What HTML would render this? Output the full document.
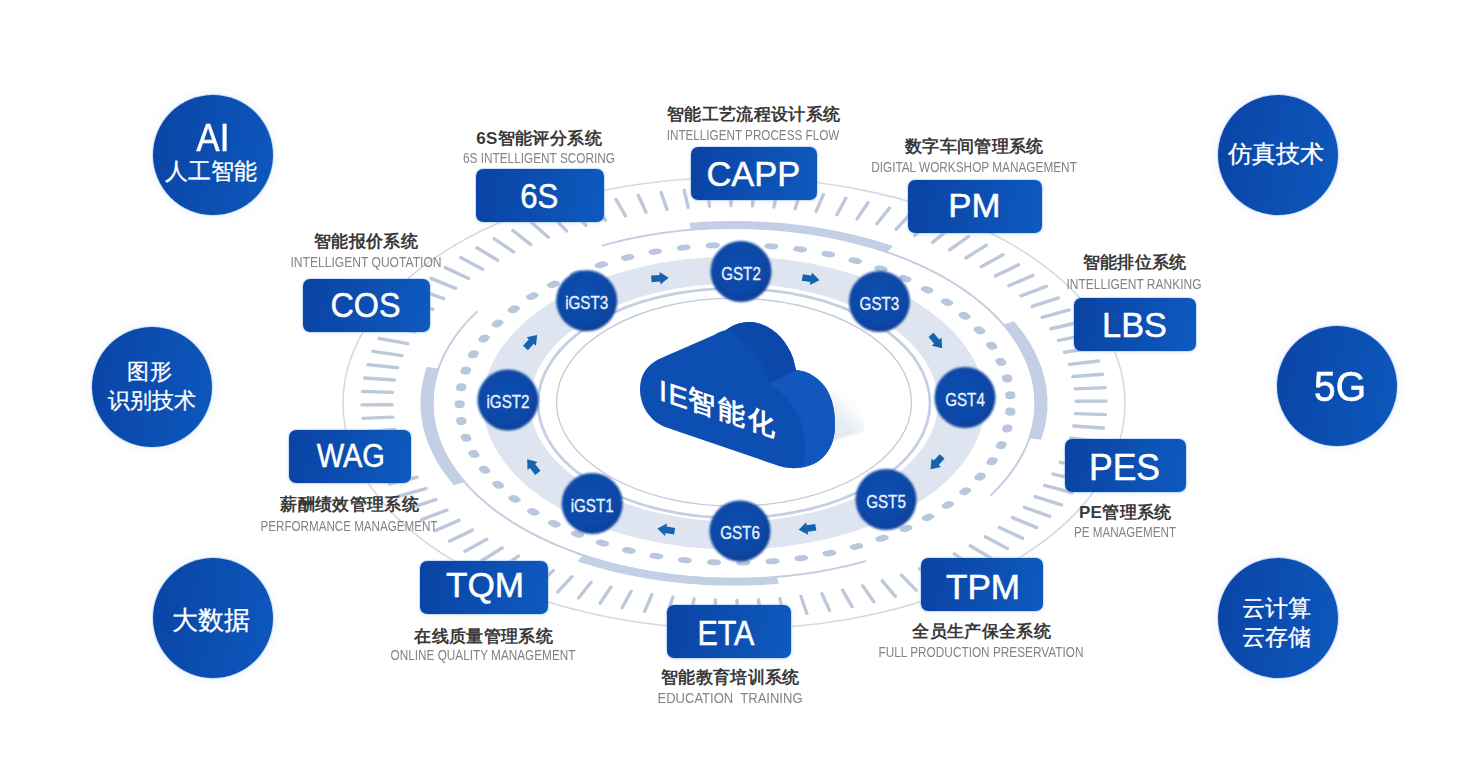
<!DOCTYPE html><html><head><meta charset="utf-8"><style>
*{margin:0;padding:0;box-sizing:border-box}
html,body{width:1463px;height:759px;overflow:hidden;background:#fff}
body{position:relative;font-family:"Liberation Sans",sans-serif}
.bc{position:absolute;width:120px;height:120px;border-radius:50%;background:linear-gradient(100deg,#0a44a5 0%,#0d58bd 100%);box-shadow:0 0 0 1px rgba(140,190,250,.45),0 0 10px 3px rgba(40,100,200,.06);color:#fff;text-align:center}
.bx{position:absolute;height:53px;border-radius:7px;background:linear-gradient(100deg,#0a43a3 0%,#0e5abf 100%);box-shadow:0 0 0 1px rgba(140,190,250,.4),0 1px 5px rgba(20,70,160,.10);color:#fff}
.bx span{position:absolute;left:50%;top:0;white-space:nowrap;font-size:34px;line-height:53px;transform-origin:50% 50%;-webkit-text-stroke:0.5px #fff}
.t{position:absolute;white-space:nowrap;text-align:center;font-weight:bold;color:#3a3a3a;font-size:17px;line-height:20px;letter-spacing:0.35px}
.e{position:absolute;white-space:pre;color:#838383;font-size:14px;line-height:14px;transform-origin:50% 50%}
.ct{position:absolute;left:0;width:120px;text-align:center;white-space:nowrap;-webkit-text-stroke:0.3px #fff}
</style></head><body>
<svg width="1463" height="759" viewBox="0 0 1463 759" style="position:absolute;left:0;top:0">
<defs>
<linearGradient id="gb" x1="0" y1="0" x2="1" y2="0.3"><stop offset="0" stop-color="#0a429f"/><stop offset="1" stop-color="#1461c4"/></linearGradient>
<radialGradient id="gst" cx="0.45" cy="0.42" r="0.6"><stop offset="0" stop-color="#1150b0"/><stop offset="0.75" stop-color="#0c47a6"/><stop offset="1" stop-color="#0b3f98"/></radialGradient>
<filter id="soft" x="-20%" y="-20%" width="140%" height="140%"><feGaussianBlur stdDeviation="1.3"/></filter>
<filter id="glow" x="-30%" y="-30%" width="160%" height="160%"><feGaussianBlur stdDeviation="5"/></filter>
<linearGradient id="cloudg" x1="0" y1="0" x2="1" y2="0.4"><stop offset="0" stop-color="#0c4db2"/><stop offset="1" stop-color="#1256bb"/></linearGradient>
</defs>
<ellipse cx="734.0" cy="403.3" rx="391" ry="225.8" fill="none" stroke="#d3d9e5" stroke-width="1.6"/>
<path d="M1075.50,413.67L1105.46,414.61M1073.66,426.02L1103.46,428.04M1070.49,438.28L1100.01,441.38M1065.99,450.41L1095.11,454.56M1060.17,462.34L1088.78,467.54M1053.07,474.04L1081.06,480.27M1044.71,485.46L1071.97,492.69M1035.12,496.55L1061.54,504.76M1024.35,507.28L1049.82,516.43M1012.43,517.59L1036.85,527.64M999.41,527.45L1022.69,538.37M985.34,536.82L1007.39,548.56M970.28,545.67L991.01,558.18M954.29,553.94L973.61,567.19M937.43,561.63L955.27,575.54M919.77,568.69L936.06,583.22M901.37,575.09L916.05,590.18M882.31,580.81L895.32,596.41M862.67,585.84L873.96,601.87M842.52,590.14L852.04,606.55M821.94,593.70L829.65,610.43M801.01,596.51L806.89,613.48M779.82,598.55L783.84,615.71M758.45,599.83L760.60,617.09M736.98,600.33L737.25,617.64M715.51,600.05L713.88,617.33M694.10,598.99L690.60,616.18M672.85,597.15L667.49,614.19M651.84,594.56L644.64,611.36M631.16,591.20L622.14,607.71M610.88,587.10L600.08,603.25M591.09,582.28L578.55,598.01M571.86,576.75L557.64,591.99M553.27,570.53L537.42,585.23M535.40,563.65L517.98,577.75M518.31,556.14L499.39,569.57M502.07,548.02L481.72,560.75M486.75,539.33L465.06,551.29M472.40,530.11L449.45,541.26M459.08,520.38L434.97,530.68M446.85,510.19L421.66,519.59M435.75,499.57L409.59,508.04M425.83,488.58L398.80,496.08M417.13,477.24L389.33,483.75M409.67,465.61L381.22,471.11M403.50,453.74L374.51,458.19M398.63,441.67L369.21,445.06M395.08,429.44L365.35,431.76M392.88,417.11L362.95,418.35M392.01,404.72L362.01,404.87M392.50,392.33L362.54,391.39M394.34,379.98L364.54,377.96M397.51,367.72L367.99,364.62M402.01,355.59L372.89,351.44M407.83,343.66L379.22,338.46M414.93,331.96L386.94,325.73M423.29,320.54L396.03,313.31M432.88,309.45L406.46,301.24M443.65,298.72L418.18,289.57M455.57,288.41L431.15,278.36M468.59,278.55L445.31,267.63M482.66,269.18L460.61,257.44M497.72,260.33L476.99,247.82M513.71,252.06L494.39,238.81M530.57,244.37L512.73,230.46M548.23,237.31L531.94,222.78M566.63,230.91L551.95,215.82M585.69,225.19L572.68,209.59M605.33,220.16L594.04,204.13M625.48,215.86L615.96,199.45M646.06,212.30L638.35,195.57M666.99,209.49L661.11,192.52M688.18,207.45L684.16,190.29M709.55,206.17L707.40,188.91M731.02,205.67L730.75,188.36M752.49,205.95L754.12,188.67M773.90,207.01L777.40,189.82M795.15,208.85L800.51,191.81M816.16,211.44L823.36,194.64M836.84,214.80L845.86,198.29M857.12,218.90L867.92,202.75M876.91,223.72L889.45,207.99M896.14,229.25L910.36,214.01M914.73,235.47L930.58,220.77M932.60,242.35L950.02,228.25M949.69,249.86L968.61,236.43M965.93,257.98L986.28,245.25M981.25,266.67L1002.94,254.71M995.60,275.89L1018.55,264.74M1008.92,285.62L1033.03,275.32M1021.15,295.81L1046.34,286.41M1032.25,306.43L1058.41,297.96M1042.17,317.42L1069.20,309.92M1050.87,328.76L1078.67,322.25M1058.33,340.39L1086.78,334.89M1064.50,352.26L1093.49,347.81M1069.37,364.33L1098.79,360.94M1072.92,376.56L1102.65,374.24M1075.12,388.89L1105.05,387.65M1075.99,401.28L1105.99,401.13" stroke="#bdc8db" stroke-width="3.4" stroke-linecap="round" fill="none"/>
<path d="M601.83,245.69 L606.60,244.37 L611.41,243.10 L616.26,241.87 L621.15,240.69 L626.07,239.57 L631.02,238.49 L636.01,237.47 L641.02,236.49 L646.07,235.57 L651.14,234.70 L656.23,233.88 L661.35,233.11 L666.49,232.40 L671.66,231.74 L676.84,231.13 L682.04,230.57 L687.26,230.07 L692.49,229.62 L697.73,229.22 L702.98,228.88 L708.25,228.59 L713.52,228.35 L718.80,228.17 L724.08,228.04 L729.36,227.97 L734.65,227.95 L739.94,227.98 L745.22,228.07 L750.50,228.21 L755.78,228.41 L761.05,228.65 L766.31,228.96 L771.56,229.31 L776.80,229.72 L782.03,230.19 L787.24,230.70 L792.44,231.27 L797.62,231.90 L802.77,232.57 L807.91,233.30 L813.03,234.08 L818.12,234.91 L823.18,235.79 L828.22,236.73 L833.22,237.72 L838.20,238.75 L843.15,239.84 L848.06,240.98 L852.93,242.17 L857.77,243.41 L862.58,244.69 L867.34,246.03 L872.06,247.41 L876.74,248.84 L881.37,250.32 L885.96,251.85 L890.51,253.42 L895.00,255.04 L899.45,256.71 L903.84,258.42 L908.18,260.17 L912.47,261.97 L916.71,263.81 L920.88,265.70 L925.00,267.62 L929.06,269.59 L933.07,271.60 L937.01,273.65 L940.88,275.74 L944.70,277.87 L948.45,280.04 L952.13,282.25 L955.75,284.49 L959.29,286.77 L962.77,289.09 L966.18,291.44 L969.52,293.82 L972.78,296.24 L975.97,298.69 L979.09,301.18 L982.13,303.69 L985.10,306.24 L987.99,308.81 L990.80,311.42 L993.53,314.05 L996.18,316.71 L998.75,319.40 L1001.24,322.11 L1003.64,324.85 L1005.97,327.61 L1008.21,330.40 L1010.36,333.20 L1012.43,336.03 L1014.42,338.88 L1016.32,341.75 L1018.13,344.64 L1019.86,347.55 L1021.49,350.47 L1023.04,353.41 L1024.50,356.37 L1025.87,359.34 L1027.15,362.32 L1028.34,365.32 L1029.44,368.33 L1030.45,371.34 L1031.37,374.37 L1032.20,377.41 L1032.93,380.46 L1033.57,383.51 L1034.12,386.57 L1034.58,389.63 L1034.95,392.70 L1035.22,395.77 L1035.40,398.84 L1035.49,401.92 L1035.49,404.99 L1035.39,408.07 L1035.20,411.14 L1034.92,414.21 L1034.54,417.28 L1034.07,420.34 L1033.51,423.40 L1032.86,426.45 L1032.12,429.49 L1031.28,432.53 L1030.36,435.56 L1029.34,438.57 L1028.23,441.58 L1027.03,444.58 L1025.74,447.56 L1024.36,450.53 L1022.89,453.48 L1021.33,456.42 L1019.69,459.34 L1017.95,462.25 L1016.13,465.13 L1014.23,468.00 L1012.23,470.85 L1010.15,473.68 L1007.99,476.48 L1005.74,479.26 L1003.41,482.02 L1000.99,484.76 L998.50,487.47 L995.92,490.15 L993.26,492.81 L990.52,495.44 M866.17,560.91 L861.40,562.23 L856.59,563.50 L851.74,564.73 L846.85,565.91 L841.93,567.03 L836.98,568.11 L831.99,569.13 L826.98,570.11 L821.93,571.03 L816.86,571.90 L811.77,572.72 L806.65,573.49 L801.51,574.20 L796.34,574.86 L791.16,575.47 L785.96,576.03 L780.74,576.53 L775.51,576.98 L770.27,577.38 L765.02,577.72 L759.75,578.01 L754.48,578.25 L749.20,578.43 L743.92,578.56 L738.64,578.63 L733.35,578.65 L728.06,578.62 L722.78,578.53 L717.50,578.39 L712.22,578.19 L706.95,577.95 L701.69,577.64 L696.44,577.29 L691.20,576.88 L685.97,576.41 L680.76,575.90 L675.56,575.33 L670.38,574.70 L665.23,574.03 L660.09,573.30 L654.97,572.52 L649.88,571.69 L644.82,570.81 L639.78,569.87 L634.78,568.88 L629.80,567.85 L624.85,566.76 L619.94,565.62 L615.07,564.43 L610.23,563.19 L605.42,561.91 L600.66,560.57 L595.94,559.19 L591.26,557.76 L586.63,556.28 L582.04,554.75 L577.49,553.18 L573.00,551.56 L568.55,549.89 L564.16,548.18 L559.82,546.43 L555.53,544.63 L551.29,542.79 L547.12,540.90 L543.00,538.98 L538.94,537.01 L534.93,535.00 L530.99,532.95 L527.12,530.86 L523.30,528.73 L519.55,526.56 L515.87,524.35 L512.25,522.11 L508.71,519.83 L505.23,517.51 L501.82,515.16 L498.48,512.78 L495.22,510.36 L492.03,507.91 L488.91,505.42 L485.87,502.91 L482.90,500.36 L480.01,497.79 L477.20,495.18 L474.47,492.55 L471.82,489.89 L469.25,487.20 L466.76,484.49 L464.36,481.75 L462.03,478.99 L459.79,476.20 L457.64,473.40 L455.57,470.57 L453.58,467.72 L451.68,464.85 L449.87,461.96 L448.14,459.05 L446.51,456.13 L444.96,453.19 L443.50,450.23 L442.13,447.26 L440.85,444.28 L439.66,441.28 L438.56,438.27 L437.55,435.26 L436.63,432.23 L435.80,429.19 L435.07,426.14 L434.43,423.09 L433.88,420.03 L433.42,416.97 L433.05,413.90 L432.78,410.83 L432.60,407.76 L432.51,404.68 L432.51,401.61 L432.61,398.53 L432.80,395.46 L433.08,392.39 L433.46,389.32 L433.93,386.26 L434.49,383.20 L435.14,380.15 L435.88,377.11 L436.72,374.07 L437.64,371.04 L438.66,368.03 L439.77,365.02 L440.97,362.02 L442.26,359.04 L443.64,356.07 L445.11,353.12 L446.67,350.18 L448.31,347.26 L450.05,344.35 L451.87,341.47 L453.77,338.60 L455.77,335.75 L457.85,332.92 L460.01,330.12 L462.26,327.34 L464.59,324.58 L467.01,321.84 L469.50,319.13 L472.08,316.45 L474.74,313.79 L477.48,311.16" fill="none" stroke="#c4cee1" stroke-width="2"/>
<path d="M453.93,485.23 L451.50,482.35 L449.16,479.46 L446.91,476.54 L444.74,473.60 L442.66,470.64 L440.68,467.66 L438.78,464.65 L436.98,461.63 L435.26,458.59 L433.64,455.53 L432.11,452.46 L430.67,449.37 L429.33,446.27 L428.08,443.16 L426.93,440.03 L425.87,436.89 L424.90,433.74 L424.03,430.58 L423.25,427.41 L422.57,424.24 L421.99,421.06 L421.50,417.87 L421.11,414.68 L420.82,411.49 L420.62,408.29 L420.52,405.09 L420.51,401.89 L420.60,398.69 L420.79,395.50 L421.07,392.30 L421.45,389.11 L421.93,385.92 L422.50,382.74 L423.17,379.57 L423.93,376.40 L424.79,373.24 L425.74,370.09 L426.79,366.95 L439.53,368.46 L438.53,371.47 L437.61,374.49 L436.79,377.51 L436.06,380.55 L435.42,383.60 L434.87,386.64 L434.41,389.70 L434.05,392.76 L433.78,395.82 L433.60,398.89 L433.51,401.95 L433.51,405.02 L433.61,408.08 L433.80,411.15 L434.09,414.21 L434.46,417.27 L434.93,420.32 L435.49,423.37 L436.14,426.41 L436.88,429.45 L437.72,432.48 L438.64,435.50 L439.66,438.51 L440.77,441.50 L441.96,444.49 L443.25,447.46 L444.63,450.42 L446.10,453.37 L447.65,456.30 L449.29,459.21 L451.02,462.11 L452.84,464.99 L454.74,467.85 L456.73,470.69 L458.81,473.50 L460.97,476.30 L463.21,479.08 L465.54,481.83Z" fill="#c3cfe4"/>
<path d="M689.29,222.83 L694.81,222.40 L700.34,222.02 L705.89,221.70 L711.44,221.44 L717.00,221.24 L722.57,221.09 L728.14,221.00 L733.71,220.97 L739.28,220.99 L744.85,221.08 L750.42,221.22 L755.98,221.42 L761.54,221.67 L767.08,221.99 L772.62,222.36 L778.14,222.79 L783.65,223.27 L789.15,223.81 L794.62,224.41 L800.08,225.06 L805.52,225.78 L810.93,226.54 L816.32,227.37 L821.68,228.25 L827.02,229.18 L832.33,230.17 L837.60,231.21 L842.85,232.31 L848.05,233.46 L853.23,234.67 L858.36,235.93 L863.46,237.24 L868.51,238.60 L873.52,240.02 L878.49,241.49 L883.41,243.01 L888.29,244.58 L893.11,246.20 L886.52,252.71 L881.89,251.16 L877.22,249.65 L872.50,248.20 L867.74,246.79 L862.93,245.43 L858.09,244.13 L853.20,242.87 L848.28,241.66 L843.32,240.51 L838.33,239.40 L833.31,238.35 L828.25,237.35 L823.16,236.40 L818.05,235.50 L812.91,234.66 L807.74,233.87 L802.55,233.14 L797.34,232.46 L792.11,231.83 L786.86,231.25 L781.59,230.74 L776.31,230.27 L771.02,229.86 L765.71,229.51 L760.40,229.20 L755.07,228.96 L749.74,228.77 L744.40,228.63 L739.07,228.55 L733.72,228.53 L728.38,228.56 L723.04,228.65 L717.71,228.79 L712.38,228.98 L707.05,229.23 L701.74,229.54 L696.43,229.90 L691.14,230.32Z" fill="#c3cfe4"/>
<path d="M1014.07,321.37 L1016.50,324.25 L1018.84,327.14 L1021.09,330.06 L1023.26,333.00 L1025.34,335.96 L1027.32,338.94 L1029.22,341.95 L1031.02,344.97 L1032.74,348.01 L1034.36,351.07 L1035.89,354.14 L1037.33,357.23 L1038.67,360.33 L1039.92,363.44 L1041.07,366.57 L1042.13,369.71 L1043.10,372.86 L1043.97,376.02 L1044.75,379.19 L1045.43,382.36 L1046.01,385.54 L1046.50,388.73 L1046.89,391.92 L1047.18,395.11 L1047.38,398.31 L1047.48,401.51 L1047.49,404.71 L1047.40,407.91 L1047.21,411.10 L1046.93,414.30 L1046.55,417.49 L1046.07,420.68 L1045.50,423.86 L1044.83,427.03 L1044.07,430.20 L1043.21,433.36 L1042.26,436.51 L1041.21,439.65 L1028.47,438.14 L1029.47,435.13 L1030.39,432.11 L1031.21,429.09 L1031.94,426.05 L1032.58,423.00 L1033.13,419.96 L1033.59,416.90 L1033.95,413.84 L1034.22,410.78 L1034.40,407.71 L1034.49,404.65 L1034.49,401.58 L1034.39,398.52 L1034.20,395.45 L1033.91,392.39 L1033.54,389.33 L1033.07,386.28 L1032.51,383.23 L1031.86,380.19 L1031.12,377.15 L1030.28,374.12 L1029.36,371.10 L1028.34,368.09 L1027.23,365.10 L1026.04,362.11 L1024.75,359.14 L1023.37,356.18 L1021.90,353.23 L1020.35,350.30 L1018.71,347.39 L1016.98,344.49 L1015.16,341.61 L1013.26,338.75 L1011.27,335.91 L1009.19,333.10 L1007.03,330.30 L1004.79,327.52 L1002.46,324.77Z" fill="#c3cfe4"/>
<path d="M778.71,583.77 L773.26,584.20 L767.80,584.57 L762.33,584.89 L756.85,585.15 L751.36,585.35 L745.86,585.50 L740.36,585.59 L734.86,585.63 L729.36,585.61 L723.86,585.54 L718.37,585.40 L712.88,585.22 L707.39,584.97 L701.92,584.67 L696.45,584.32 L691.00,583.91 L685.56,583.44 L680.13,582.92 L674.72,582.34 L669.33,581.71 L663.95,581.02 L658.60,580.28 L653.28,579.48 L647.98,578.63 L642.70,577.73 L637.45,576.77 L632.23,575.76 L627.05,574.69 L621.89,573.58 L616.77,572.41 L611.69,571.18 L606.65,569.91 L601.64,568.58 L596.67,567.21 L591.75,565.78 L586.87,564.30 L582.04,562.78 L577.25,561.20 L583.75,554.66 L588.34,556.17 L592.97,557.63 L597.65,559.04 L602.37,560.41 L607.13,561.73 L611.93,563.00 L616.76,564.22 L621.64,565.39 L626.54,566.51 L631.48,567.59 L636.45,568.61 L641.46,569.58 L646.49,570.50 L651.54,571.36 L656.62,572.18 L661.73,572.94 L666.86,573.65 L672.01,574.31 L677.18,574.92 L682.36,575.47 L687.56,575.97 L692.78,576.42 L698.01,576.81 L703.25,577.15 L708.50,577.44 L713.75,577.67 L719.02,577.85 L724.29,577.98 L729.56,578.05 L734.83,578.07 L740.10,578.03 L745.37,577.95 L750.64,577.80 L755.90,577.61 L761.15,577.36 L766.40,577.05 L771.64,576.69 L776.86,576.28Z" fill="#c3cfe4"/>
<g transform="translate(735.2 403.8) scale(1 0.577)">
<circle r="275.5" fill="none" stroke="#b9c7de" stroke-width="10" stroke-linecap="round" stroke-dasharray="4.000 25.339" stroke-dashoffset="-11.704"/>
</g>
<path d="M985.00,403.00 A251.00,146.50 0 1,1 483.00,403.00 A251.00,146.50 0 1,1 985.00,403.00 Z M938.00,402.60 A204.00,118.90 0 1,0 530.00,402.60 A204.00,118.90 0 1,0 938.00,402.60 Z" fill="#dee5f0" fill-rule="evenodd"/>
<ellipse cx="734.0" cy="403.2" rx="196" ry="114.8" fill="none" stroke="#c6cfe2" stroke-width="2.8"/>
<ellipse cx="734.0" cy="402.2" rx="177.5" ry="104" fill="#fff" stroke="#c5cadb" stroke-width="1.3"/>
<defs><linearGradient id="shd" x1="0" y1="1" x2="0.6" y2="0"><stop offset="0" stop-color="#dde2eb"/><stop offset="0.5" stop-color="#eceff4"/><stop offset="1" stop-color="#ffffff" stop-opacity="0"/></linearGradient></defs>
<path d="M830,392 L852,386 C861,401 866,417 864,431 L832,441 Z" fill="url(#shd)" filter="url(#soft)"/>
<path d="M640,389 C640,375 647,365 659,359 L714,335 C719,332 722,331 726,330 C734,324 742,322 750,322 C770,323 786,338 793,358 L796,370 C808,371 820,378 827,390 C833,400 835,413 835,425 C835,446 825,461 808,466 C799,469 789,469 779,466 L665,427 C650,421 640,406 640,389 Z" fill="#0d4eb3"/>
<path d="M726,330 C734,324 742,322 750,322 C770,323 786,338 793,358 L796,370 L769,384 C765,364 752,344 738,336 C733,333 729,331 726,330 Z" fill="#0b48aa"/>
<path d="M796,370 C808,371 820,378 827,390 C833,400 835,413 835,425 C835,446 825,461 808,466 L803,467 C806,455 806,441 803,429 C800,413 790,397 769,384 Z" fill="#1157bd"/>
<text x="0" y="0" transform="translate(659,399.8) skewY(18.5)" font-family="Liberation Sans, sans-serif" fill="#fff"><tspan font-size="29" font-weight="normal" stroke="#fff" stroke-width="0.5" letter-spacing="1.5">IE</tspan><tspan font-size="27" letter-spacing="2.5" font-weight="bold" dy="-2.5" dx="-1">智能化</tspan></text>
<circle cx="586.7" cy="300.7" r="30.5" fill="url(#gst)" filter="url(#soft)"/>
<text x="0" y="0" text-anchor="middle" font-family="Liberation Sans, sans-serif" font-size="19" fill="#e9f1ff" stroke="#e9f1ff" stroke-width="0.35" transform="translate(586.7 308.7) scale(0.8 1)">iGST3</text>
<circle cx="741.0" cy="271.5" r="30.5" fill="url(#gst)" filter="url(#soft)"/>
<text x="0" y="0" text-anchor="middle" font-family="Liberation Sans, sans-serif" font-size="19" fill="#e9f1ff" stroke="#e9f1ff" stroke-width="0.35" transform="translate(741.0 279.5) scale(0.8 1)">GST2</text>
<circle cx="879.4" cy="301.5" r="30.5" fill="url(#gst)" filter="url(#soft)"/>
<text x="0" y="0" text-anchor="middle" font-family="Liberation Sans, sans-serif" font-size="19" fill="#e9f1ff" stroke="#e9f1ff" stroke-width="0.35" transform="translate(879.4 309.5) scale(0.8 1)">GST3</text>
<circle cx="965.0" cy="397.5" r="30.5" fill="url(#gst)" filter="url(#soft)"/>
<text x="0" y="0" text-anchor="middle" font-family="Liberation Sans, sans-serif" font-size="19" fill="#e9f1ff" stroke="#e9f1ff" stroke-width="0.35" transform="translate(965.0 405.5) scale(0.8 1)">GST4</text>
<circle cx="886.0" cy="499.5" r="30.5" fill="url(#gst)" filter="url(#soft)"/>
<text x="0" y="0" text-anchor="middle" font-family="Liberation Sans, sans-serif" font-size="19" fill="#e9f1ff" stroke="#e9f1ff" stroke-width="0.35" transform="translate(886.0 507.5) scale(0.8 1)">GST5</text>
<circle cx="740.0" cy="531.0" r="30.5" fill="url(#gst)" filter="url(#soft)"/>
<text x="0" y="0" text-anchor="middle" font-family="Liberation Sans, sans-serif" font-size="19" fill="#e9f1ff" stroke="#e9f1ff" stroke-width="0.35" transform="translate(740.0 539.0) scale(0.8 1)">GST6</text>
<circle cx="592.2" cy="503.5" r="30.5" fill="url(#gst)" filter="url(#soft)"/>
<text x="0" y="0" text-anchor="middle" font-family="Liberation Sans, sans-serif" font-size="19" fill="#e9f1ff" stroke="#e9f1ff" stroke-width="0.35" transform="translate(592.2 511.5) scale(0.8 1)">iGST1</text>
<circle cx="508.0" cy="400.0" r="30.5" fill="url(#gst)" filter="url(#soft)"/>
<text x="0" y="0" text-anchor="middle" font-family="Liberation Sans, sans-serif" font-size="19" fill="#e9f1ff" stroke="#e9f1ff" stroke-width="0.35" transform="translate(508.0 408.0) scale(0.8 1)">iGST2</text>
<path d="M-8.7,-3.3 L0,-3.3 L0,-6.3 L8.7,0 L0,6.3 L0,3.3 L-8.7,3.3 Z" fill="#1662ae" transform="translate(660.0 278.3) rotate(-4.0)"/>
<path d="M-8.7,-3.3 L0,-3.3 L0,-6.3 L8.7,0 L0,6.3 L0,3.3 L-8.7,3.3 Z" fill="#1662ae" transform="translate(810.9 278.8) rotate(9.0)"/>
<path d="M-8.7,-3.3 L0,-3.3 L0,-6.3 L8.7,0 L0,6.3 L0,3.3 L-8.7,3.3 Z" fill="#1662ae" transform="translate(936.6 341.6) rotate(50.0)"/>
<path d="M-8.7,-3.3 L0,-3.3 L0,-6.3 L8.7,0 L0,6.3 L0,3.3 L-8.7,3.3 Z" fill="#1662ae" transform="translate(936.3 462.8) rotate(132.0)"/>
<path d="M-8.7,-3.3 L0,-3.3 L0,-6.3 L8.7,0 L0,6.3 L0,3.3 L-8.7,3.3 Z" fill="#1662ae" transform="translate(807.2 528.5) rotate(171.0)"/>
<path d="M-8.7,-3.3 L0,-3.3 L0,-6.3 L8.7,0 L0,6.3 L0,3.3 L-8.7,3.3 Z" fill="#1662ae" transform="translate(666.0 529.8) rotate(189.0)"/>
<path d="M-8.7,-3.3 L0,-3.3 L0,-6.3 L8.7,0 L0,6.3 L0,3.3 L-8.7,3.3 Z" fill="#1662ae" transform="translate(532.5 466.0) rotate(-128.0)"/>
<path d="M-8.7,-3.3 L0,-3.3 L0,-6.3 L8.7,0 L0,6.3 L0,3.3 L-8.7,3.3 Z" fill="#1662ae" transform="translate(531.3 341.5) rotate(-48.0)"/>
</svg>
<div class="bc" style="left:152.6px;top:94.6px"><div class="ct" style="top:23.8px;font-size:38.5px;line-height:40px;transform:scaleX(0.9);-webkit-text-stroke:0.6px #fff">AI</div><div class="ct" style="top:62.3px;left:-1.2px;font-size:23.2px;line-height:28px">人工智能</div></div>
<div class="bc" style="left:91.5px;top:327.0px"><div class="ct" style="top:30px;left:-1.8px;font-size:22.4px;line-height:29px;letter-spacing:0.6px">图形</div><div class="ct" style="top:59px;font-size:22.4px;line-height:29px">识别技术</div></div>
<div class="bc" style="left:153.0px;top:557.6px"><div class="ct" style="top:47px;left:-2px;font-size:25.7px;line-height:30px">大数据</div></div>
<div class="bc" style="left:1217.6px;top:94.6px"><div class="ct" style="top:45px;left:-1.3px;font-size:24px;line-height:28px">仿真技术</div></div>
<div class="bc" style="left:1277.4px;top:326.0px"><div class="ct" style="top:37px;left:3px;font-size:43px;line-height:46px;transform:scaleX(0.905);-webkit-text-stroke:0.7px #fff">5G</div></div>
<div class="bc" style="left:1217.6px;top:557.7px"><div class="ct" style="top:36px;left:-1.5px;font-size:22.7px;line-height:29px">云计算<br>云存储</div></div>
<div class="bx" style="left:303.0px;top:278.5px;width:127.0px"><span style="font-size:34.4px;top:0.5px;transform:translateX(calc(-50% + -1.5px)) scaleX(0.939)">COS</span></div>
<div class="t" style="left:216.1px;top:231.5px;width:300px">智能报价系统</div>
<div class="e" style="left:165.7px;top:254.9px;width:400px;text-align:center;transform:scaleX(0.863)">INTELLIGENT QUOTATION</div>
<div class="bx" style="left:475.5px;top:169.0px;width:128.0px"><span style="font-size:35.5px;top:0.9px;transform:translateX(calc(-50% + -0.8px)) scaleX(0.878)">6S</span></div>
<div class="t" style="left:389.1px;top:129.1px;width:300px">6S智能评分系统</div>
<div class="e" style="left:338.7px;top:150.9px;width:400px;text-align:center;transform:scaleX(0.843)">6S INTELLIGENT SCORING</div>
<div class="bx" style="left:691.0px;top:147.3px;width:126.0px"><span style="font-size:35.3px;top:-0.2px;transform:translateX(calc(-50% + -0.6px)) scaleX(0.978)">CAPP</span></div>
<div class="t" style="left:603.6px;top:105.2px;width:300px">智能工艺流程设计系统</div>
<div class="e" style="left:553.2px;top:128.3px;width:400px;text-align:center;transform:scaleX(0.835)">INTELLIGENT PROCESS FLOW</div>
<div class="bx" style="left:908.0px;top:180.3px;width:133.5px"><span style="font-size:33.7px;top:-0.9px;transform:translateX(calc(-50% + -0.6px)) scaleX(1.032)">PM</span></div>
<div class="t" style="left:824.4px;top:136.5px;width:300px">数字车间管理系统</div>
<div class="e" style="left:774.0px;top:160.3px;width:400px;text-align:center;transform:scaleX(0.843)">DIGITAL WORKSHOP MANAGEMENT</div>
<div class="bx" style="left:1074.0px;top:298.2px;width:122.0px"><span style="font-size:34.4px;top:0.9px;transform:translateX(calc(-50% + -0.5px)) scaleX(0.997)">LBS</span></div>
<div class="t" style="left:984.6px;top:253.1px;width:300px">智能排位系统</div>
<div class="e" style="left:934.2px;top:277.2px;width:400px;text-align:center;transform:scaleX(0.856)">INTELLIGENT RANKING</div>
<div class="bx" style="left:1065.0px;top:438.8px;width:121.4px"><span style="font-size:37.5px;top:2.2px;transform:translateX(calc(-50% + -1.5px)) scaleX(0.948)">PES</span></div>
<div class="t" style="left:975.3px;top:502.8px;width:300px">PE管理系统</div>
<div class="e" style="left:924.9px;top:525.2px;width:400px;text-align:center;transform:scaleX(0.830)">PE MANAGEMENT</div>
<div class="bx" style="left:921.0px;top:557.8px;width:122.0px"><span style="font-size:34.3px;top:2.8px;transform:translateX(calc(-50% + 1.0px)) scaleX(1.023)">TPM</span></div>
<div class="t" style="left:831.6px;top:622.1px;width:300px">全员生产保全系统</div>
<div class="e" style="left:781.2px;top:645.2px;width:400px;text-align:center;transform:scaleX(0.844)">FULL PRODUCTION PRESERVATION</div>
<div class="bx" style="left:667.0px;top:605.1px;width:124.0px"><span style="font-size:34.7px;top:1.7px;transform:translateX(calc(-50% + -3.1px)) scaleX(0.879)">ETA</span></div>
<div class="t" style="left:580.3px;top:667.9px;width:300px">智能教育培训系统</div>
<div class="e" style="left:529.9px;top:690.6px;width:400px;text-align:center;transform:scaleX(0.931)">EDUCATION  TRAINING</div>
<div class="bx" style="left:420.0px;top:561.1px;width:128.0px"><span style="font-size:35.5px;top:-2.1px;transform:translateX(calc(-50% + 1.1px)) scaleX(0.991)">TQM</span></div>
<div class="t" style="left:333.6px;top:626.7px;width:300px">在线质量管理系统</div>
<div class="e" style="left:283.2px;top:648.1px;width:400px;text-align:center;transform:scaleX(0.841)">ONLINE QUALITY MANAGEMENT</div>
<div class="bx" style="left:289.0px;top:429.5px;width:122.0px"><span style="font-size:33.9px;top:-0.1px;transform:translateX(calc(-50% + 0.8px)) scaleX(0.856)">WAG</span></div>
<div class="t" style="left:199.6px;top:495.1px;width:300px">薪酬绩效管理系统</div>
<div class="e" style="left:149.2px;top:519.0px;width:400px;text-align:center;transform:scaleX(0.830)">PERFORMANCE MANAGEMENT</div>
</body></html>
